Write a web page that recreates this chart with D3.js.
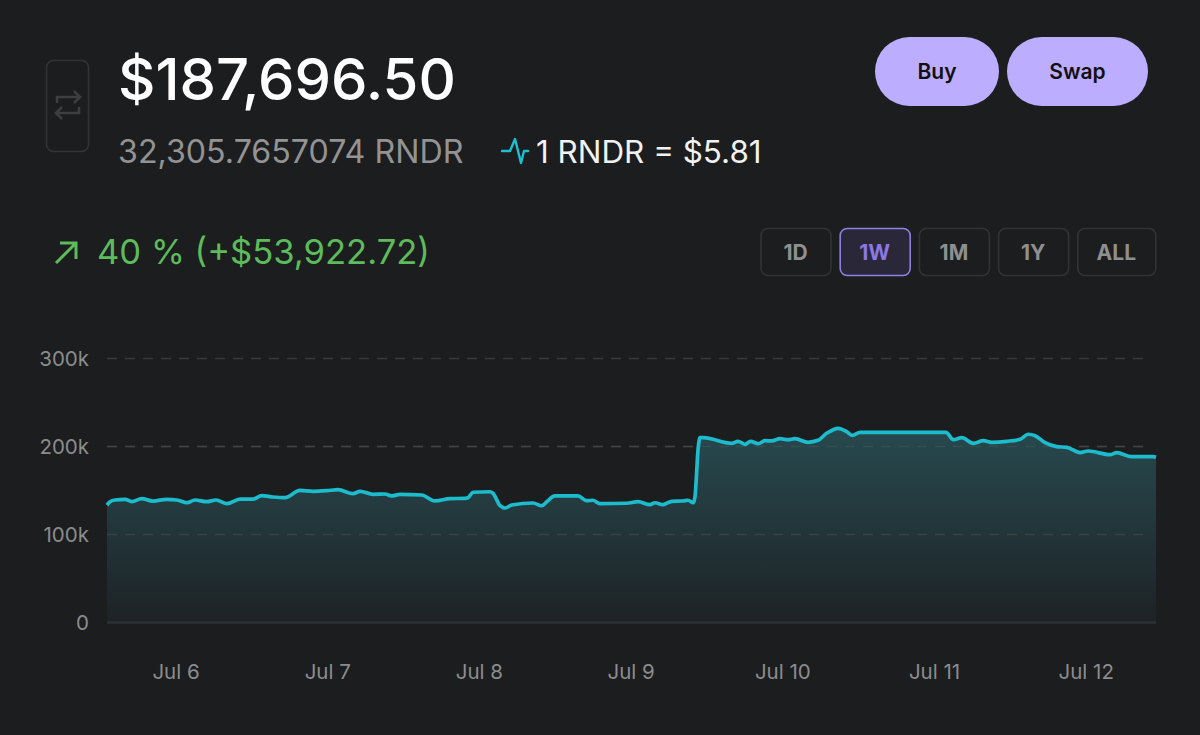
<!DOCTYPE html>
<html><head><meta charset="utf-8">
<script src="https://cdn.jsdelivr.net/npm/d3@7"></script>
<style>html,body{margin:0;padding:0;background:#1c1d1f;overflow:hidden}svg{display:block}text{font-family:Inter,sans-serif}</style>
</head><body><svg id="c" width="1200" height="735"></svg>
<script>
const dayOffsets=[-0.455,-0.435,-0.402,-0.336,-0.292,-0.226,-0.152,-0.061,0.005,0.073,0.125,0.202,0.264,0.336,0.422,0.508,0.565,0.639,0.719,0.817,0.903,0.993,1.068,1.167,1.213,1.299,1.378,1.422,1.477,1.620,1.707,1.806,1.905,1.925,1.958,2.070,2.090,2.136,2.169,2.213,2.353,2.411,2.444,2.498,2.650,2.707,2.747,2.795,2.971,3.045,3.125,3.157,3.210,3.268,3.342,3.375,3.410,3.421,3.443,3.454,3.476,3.663,3.705,3.751,3.788,3.838,3.883,3.927,3.982,4.034,4.080,4.166,4.232,4.289,4.366,4.421,4.458,4.509,5.076,5.124,5.179,5.256,5.322,5.377,5.476,5.564,5.618,5.663,5.729,5.806,5.872,5.959,6.014,6.157,6.201,6.300,6.442,6.460];
const portfolioValues=[133.5,137.3,139.2,140,137.3,140.7,138,140,139.2,136.1,139.2,137.3,139.2,135,140.3,140.3,144.1,142.6,141.8,150.2,149.1,149.8,150.9,146.4,149.1,145.7,146,143.8,145.7,144.9,138.1,140.7,141.1,141.8,148,148.6,146.8,132.7,130.1,133.5,135.8,132.7,137.3,143.8,143.8,138.4,138.9,135,135.5,137.3,133.9,136.1,133.9,137.7,138.1,138.9,136.1,143,199.8,210,210,203.6,205.9,202.5,205.9,203.2,206.6,206.3,208.9,207.7,208.9,204.8,207,215,220.7,216.8,212.7,216.1,216.1,207.7,210,203.6,206.6,204.8,205.9,208.2,213.9,212.3,204.3,199.8,199.1,193,194.9,190.7,193,188.4,188.4,187.7];
const yTicks=[0,100,200,300];
const dayTicks=[0,1,2,3,4,5,6];
const dayLabels=["Jul 6","Jul 7","Jul 8","Jul 9","Jul 10","Jul 11","Jul 12"];
const rangeLabels=["1D","1W","1M","1Y","ALL"];
const activeRange="1W";

const svg=d3.select("#c");
const x=d3.scaleLinear().domain([dayOffsets[0],dayOffsets[dayOffsets.length-1]]).range([107,1156]);
const y=d3.scaleLinear().domain([0,300]).range([622.5,358.5]);
const pts=dayOffsets.map((d,i)=>[d,portfolioValues[i]]);

const defs=svg.append("defs");
const g=defs.append("linearGradient").attr("id","fade").attr("x1",0).attr("x2",0).attr("y1",0).attr("y2",1);
g.append("stop").attr("offset",0).attr("stop-color","#27494e");
g.append("stop").attr("offset",.35).attr("stop-color","#243c41");
g.append("stop").attr("offset",1).attr("stop-color","#1d2225");

// gridlines
svg.append("g").selectAll("line").data(yTicks.filter(d=>d>0)).join("line")
 .attr("x1",107).attr("x2",1150).attr("y1",d=>y(d)).attr("y2",d=>y(d))
 .attr("stroke","#38393b").attr("stroke-width",1.5).attr("stroke-dasharray","10 8");

// area + line
svg.append("path").datum(pts).attr("fill","url(#fade)")
 .attr("d",d3.area().x(d=>x(d[0])).y0(y(0)).y1(d=>y(d[1])).curve(d3.curveMonotoneX));
// grid visible faintly through the area
svg.append("g").selectAll("line").data(yTicks.filter(d=>d===100||d===200)).join("line")
 .attr("x1",107).attr("x2",1150).attr("y1",d=>y(d)).attr("y2",d=>y(d))
 .attr("stroke","#4a5a5c").attr("stroke-opacity",.45).attr("stroke-width",1.5).attr("stroke-dasharray","10 8");
svg.append("line").attr("x1",107).attr("x2",1156).attr("y1",y(0)).attr("y2",y(0)).attr("stroke","#2d3033").attr("stroke-width",2.6);
svg.append("path").datum(pts).attr("fill","none").attr("stroke","#1cbccd").attr("stroke-width",3.7).attr("stroke-linejoin","round")
 .attr("d",d3.line().x(d=>x(d[0])).y(d=>y(d[1])).curve(d3.curveMonotoneX));

// axes
svg.append("g").selectAll("text").data(yTicks).join("text")
 .attr("x",89).attr("y",d=>y(d)+7).attr("text-anchor","end").attr("fill","#8b8c8d").attr("font-size",20.5)
 .text(d=>d===0?"0":d+"k");
svg.append("g").selectAll("text").data(dayTicks).join("text")
 .attr("x",d=>x(d)).attr("y",679).attr("text-anchor","middle").attr("fill","#8b8c8d").attr("font-size",20.5)
 .text((d,i)=>dayLabels[i]);

// header
svg.append("text").attr("x",118).attr("y",100).attr("fill","#fff").attr("font-size",58).attr("font-weight",500).text("$187,696.50");
svg.append("text").attr("x",118).attr("y",163).attr("fill","#939394").attr("font-size",32.2).text("32,305.7657074 RNDR");
svg.append("text").attr("x",536).attr("y",163).attr("fill","#f2f2f2").attr("font-size",31.4).text("1 RNDR = $5.81");
svg.append("path").attr("d","M502 151H510L515 139L521 163L524 151H528").attr("fill","none").attr("stroke","#1cc0d0").attr("stroke-width",2.4).attr("stroke-linejoin","round").attr("stroke-linecap","round");

// swap box
svg.append("rect").attr("x",46.5).attr("y",60.5).attr("width",42).attr("height",91).attr("rx",7).attr("fill","none").attr("stroke","#333436").attr("stroke-width",1.6);
svg.append("path").attr("d","M57 103V97H79M74 91L80 97L74 103M79 107V113H57M62 107L56 113L62 119").attr("fill","none").attr("stroke","#3d3e40").attr("stroke-width",2.6);

// buy / swap
[["Buy",875,124],["Swap",1007,141]].forEach(([t,bx,w])=>{
 svg.append("rect").attr("x",bx).attr("y",37).attr("width",w).attr("height",69).attr("rx",34.5).attr("fill","#bdadff");
 svg.append("text").attr("x",bx+w/2).attr("y",79).attr("text-anchor","middle").attr("fill","#111").attr("font-size",21).attr("font-weight",600).text(t);
});

// change
svg.append("path").attr("d","M56 263L76 243M60 243H76V259").attr("fill","none").attr("stroke","#5cbb5a").attr("stroke-width",3);
svg.append("text").attr("x",97).attr("y",264).attr("fill","#5cbb5a").attr("font-size",34.6).attr("font-weight",400).text("40 % (+$53,922.72)");

// range buttons
let bx=761;
const rb=svg.append("g").selectAll("g").data(rangeLabels).join("g");
rb.each(function(d){
 const w=d==="ALL"?78:70;
 const s=d3.select(this).attr("transform",`translate(${bx},228.5)`);
 s.append("rect").attr("width",w).attr("height",47).attr("rx",7)
  .attr("fill",d===activeRange?"#2a2838":"none").attr("stroke",d===activeRange?"#8f80e0":"#323335").attr("stroke-width",1.6);
 s.append("text").attr("x",w/2-.5).attr("y",31).attr("text-anchor","middle").attr("font-size",21).attr("font-weight",700)
  .attr("fill",d===activeRange?"#8b78e6":"#8f8f90").text(d);
 bx+=w+9.2;
});
</script></body></html>
